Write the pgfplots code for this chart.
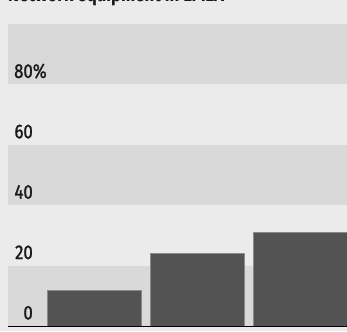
\documentclass[border=0pt]{standalone}
\usepackage{fontspec}
\setmainfont{Fira Sans}[FakeStretch=0.84]
\newfontfamily\labfont{Fira Sans}[FakeStretch=0.84, FakeBold=1.2]
\usepackage{pgfplots}
\pgfplotsset{compat=1.18}
\definecolor{bgc}{HTML}{EBEBEB}
\definecolor{band}{HTML}{D9D9D9}
\definecolor{barc}{HTML}{535353}
\definecolor{bare}{HTML}{8A8A8A}
\begin{document}
\begin{tikzpicture}
\useasboundingbox (0,0) rectangle (347pt,331pt);
\clip (0,0) rectangle (347pt,331pt);
\fill[bgc] (0,0) rectangle (347pt,331pt);
\node[anchor=base west, inner sep=0pt, font=\fontsize{20}{24}\selectfont\bfseries, text=black!90] at (8pt,329.5pt) {Network equipment in EMEA};
\begin{axis}[
  at={(8pt,5pt)}, anchor=south west,
  x=103pt, y=3.02pt,
  xmin=0.165, xmax=3.6, ymin=0, ymax=100,
  axis lines*=left,
  axis line style={draw=none},
  clip=true,
  xtick=\empty,
  ytick={0,20,40,60,80},
  yticklabels={0,20,40,60,80\rlap{\%}},
  yticklabel style={anchor=base east, inner sep=0pt, xshift=25pt, yshift=6.5pt, font=\fontsize{20}{24}\selectfont\labfont, text=black!90},
  major tick length=0pt,
  ytick style={draw=none},
  axis on top=true,
]
\fill[band] (axis cs:0.165,0) rectangle (axis cs:3.6,20);
\fill[band] (axis cs:0.165,40) rectangle (axis cs:3.6,60);
\fill[band] (axis cs:0.165,80) rectangle (axis cs:3.6,100);
\addplot[ybar, bar width=94pt, fill=barc, draw=bare, line width=0.6pt] coordinates {(1,11.7) (2,24) (3,31)};
\draw[black, line width=0.9pt] (axis cs:0.165,0) -- (axis cs:3.6,0);
\end{axis}
\end{tikzpicture}
\end{document}
